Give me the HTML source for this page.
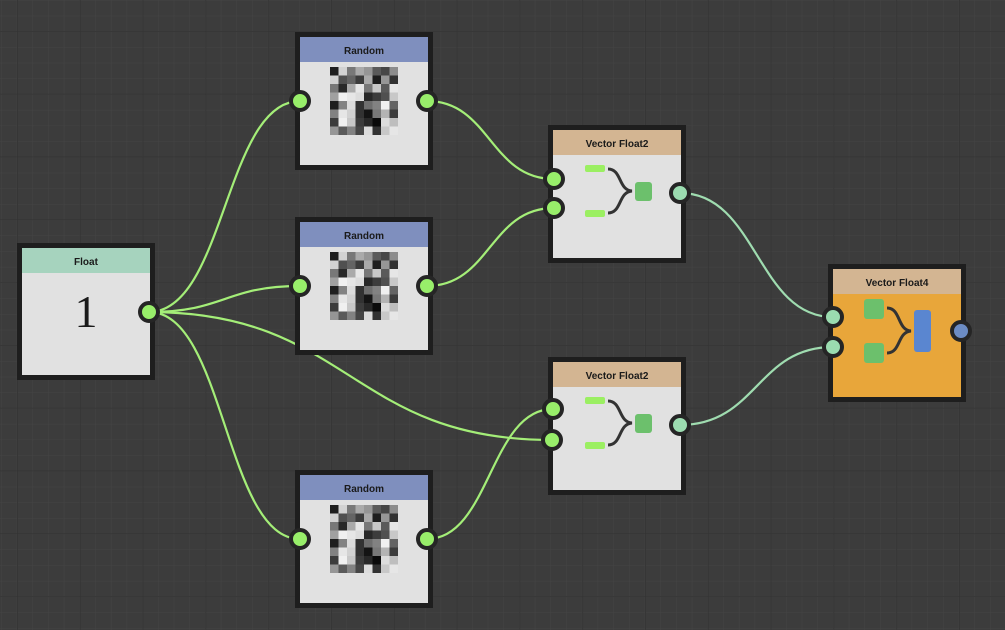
<!DOCTYPE html>
<html><head><meta charset="utf-8"><style>
html,body{margin:0;padding:0;background:#3b3b3b;overflow:hidden}
svg{display:block}
text{font-family:"Liberation Sans",sans-serif;font-weight:bold;font-size:10px;fill:#1a1a1a}
</style></head><body>
<svg width="1005" height="630" xmlns="http://www.w3.org/2000/svg">
<defs>
<pattern id="minor" width="15.7" height="15.7" patternUnits="userSpaceOnUse" x="1" y="0">
<path d="M0 0H15.7M0 0V15.7" stroke="#444" stroke-width="1" fill="none"/>
</pattern>
<pattern id="major" width="62.8" height="62.8" patternUnits="userSpaceOnUse" x="17" y="31">
<path d="M0 0H62.8M0 0V62.8" stroke="#333" stroke-width="1.5" fill="none"/>
</pattern>
</defs>
<rect width="1005" height="630" fill="#3c3c3c"/>
<rect width="1005" height="630" fill="url(#minor)"/>
<rect width="1005" height="630" fill="url(#major)"/>

<!-- wires -->
<g fill="none" stroke="#a4ee78" stroke-width="2.2">
<path d="M149 312 C225 312 225 101 300 101"/>
<path d="M149 312 C225 312 225 286 300 286"/>
<path d="M149 312 C225 312 225 539 300 539"/>
<path d="M149 312 C350 312 350 440 552 440"/>
<path d="M427 101 C490 101 490 179 554 179"/>
<path d="M427 286 C490 286 490 208 554 208"/>
<path d="M427 539 C490 539 490 409 553 409"/>
</g>
<g fill="none" stroke="#9fdcb0" stroke-width="2.2">
<path d="M680 193 C757 193 757 317 833 317"/>
<path d="M680 425 C757 425 757 347 833 347"/>
</g>

<!-- Float node -->
<rect x="19.5" y="245.5" width="133" height="132" fill="#e1e1e1" stroke="#1e1e1e" stroke-width="5"/>
<rect x="22" y="248" width="128" height="25" fill="#a6d3be"/>
<text x="86" y="265" text-anchor="middle">Float</text>
<text x="86" y="327" text-anchor="middle" style="font-family:'Liberation Serif',serif;font-weight:normal;font-size:46px">1</text>

<!-- Random nodes -->
<g>
<rect x="297.5" y="34.5" width="133" height="133" fill="#e1e1e1" stroke="#1e1e1e" stroke-width="5"/>
<rect x="300" y="37" width="128" height="25" fill="#7f8fbe"/>
<text x="364" y="54" text-anchor="middle">Random</text>
</g>
<g transform="translate(0,185)">
<rect x="297.5" y="34.5" width="133" height="133" fill="#e1e1e1" stroke="#1e1e1e" stroke-width="5"/>
<rect x="300" y="37" width="128" height="25" fill="#7f8fbe"/>
<text x="364" y="54" text-anchor="middle">Random</text>
</g>
<g transform="translate(0,438)">
<rect x="297.5" y="34.5" width="133" height="133" fill="#e1e1e1" stroke="#1e1e1e" stroke-width="5"/>
<rect x="300" y="37" width="128" height="25" fill="#7f8fbe"/>
<text x="364" y="54" text-anchor="middle">Random</text>
</g>

<!-- noise grids -->
<g id="ng" transform="translate(330,67)">
<rect x="0" y="0" width="8.5" height="8.5" fill="#1e1e1e"/><rect x="8.5" y="0" width="8.5" height="8.5" fill="#d2d2d2"/><rect x="17" y="0" width="8.5" height="8.5" fill="#787878"/><rect x="25.5" y="0" width="8.5" height="8.5" fill="#aaa"/><rect x="34" y="0" width="8.5" height="8.5" fill="#969696"/><rect x="42.5" y="0" width="8.5" height="8.5" fill="#5a5a5a"/><rect x="51" y="0" width="8.5" height="8.5" fill="#464646"/><rect x="59.5" y="0" width="8.5" height="8.5" fill="#8c8c8c"/>
<rect x="0" y="8.5" width="8.5" height="8.5" fill="#d2d2d2"/><rect x="8.5" y="8.5" width="8.5" height="8.5" fill="#505050"/><rect x="17" y="8.5" width="8.5" height="8.5" fill="#646464"/><rect x="25.5" y="8.5" width="8.5" height="8.5" fill="#3c3c3c"/><rect x="34" y="8.5" width="8.5" height="8.5" fill="#aaa"/><rect x="42.5" y="8.5" width="8.5" height="8.5" fill="#1e1e1e"/><rect x="51" y="8.5" width="8.5" height="8.5" fill="#969696"/><rect x="59.5" y="8.5" width="8.5" height="8.5" fill="#323232"/>
<rect x="0" y="17" width="8.5" height="8.5" fill="#787878"/><rect x="8.5" y="17" width="8.5" height="8.5" fill="#282828"/><rect x="17" y="17" width="8.5" height="8.5" fill="#aaa"/><rect x="25.5" y="17" width="8.5" height="8.5" fill="#e6e6e6"/><rect x="34" y="17" width="8.5" height="8.5" fill="#787878"/><rect x="42.5" y="17" width="8.5" height="8.5" fill="#c8c8c8"/><rect x="51" y="17" width="8.5" height="8.5" fill="#5a5a5a"/><rect x="59.5" y="17" width="8.5" height="8.5" fill="#e6e6e6"/>
<rect x="0" y="25.5" width="8.5" height="8.5" fill="#a0a0a0"/><rect x="8.5" y="25.5" width="8.5" height="8.5" fill="#f0f0f0"/><rect x="17" y="25.5" width="8.5" height="8.5" fill="#e6e6e6"/><rect x="25.5" y="25.5" width="8.5" height="8.5" fill="#dcdcdc"/><rect x="34" y="25.5" width="8.5" height="8.5" fill="#282828"/><rect x="42.5" y="25.5" width="8.5" height="8.5" fill="#3c3c3c"/><rect x="51" y="25.5" width="8.5" height="8.5" fill="#505050"/><rect x="59.5" y="25.5" width="8.5" height="8.5" fill="#c8c8c8"/>
<rect x="0" y="34" width="8.5" height="8.5" fill="#1e1e1e"/><rect x="8.5" y="34" width="8.5" height="8.5" fill="#828282"/><rect x="17" y="34" width="8.5" height="8.5" fill="#dcdcdc"/><rect x="25.5" y="34" width="8.5" height="8.5" fill="#323232"/><rect x="34" y="34" width="8.5" height="8.5" fill="#6e6e6e"/><rect x="42.5" y="34" width="8.5" height="8.5" fill="#828282"/><rect x="51" y="34" width="8.5" height="8.5" fill="#f0f0f0"/><rect x="59.5" y="34" width="8.5" height="8.5" fill="#646464"/>
<rect x="0" y="42.5" width="8.5" height="8.5" fill="#828282"/><rect x="8.5" y="42.5" width="8.5" height="8.5" fill="#e6e6e6"/><rect x="17" y="42.5" width="8.5" height="8.5" fill="#d2d2d2"/><rect x="25.5" y="42.5" width="8.5" height="8.5" fill="#323232"/><rect x="34" y="42.5" width="8.5" height="8.5" fill="#141414"/><rect x="42.5" y="42.5" width="8.5" height="8.5" fill="#787878"/><rect x="51" y="42.5" width="8.5" height="8.5" fill="#b4b4b4"/><rect x="59.5" y="42.5" width="8.5" height="8.5" fill="#3c3c3c"/>
<rect x="0" y="51" width="8.5" height="8.5" fill="#3c3c3c"/><rect x="8.5" y="51" width="8.5" height="8.5" fill="#f0f0f0"/><rect x="17" y="51" width="8.5" height="8.5" fill="#c8c8c8"/><rect x="25.5" y="51" width="8.5" height="8.5" fill="#3c3c3c"/><rect x="34" y="51" width="8.5" height="8.5" fill="#282828"/><rect x="42.5" y="51" width="8.5" height="8.5" fill="#0a0a0a"/><rect x="51" y="51" width="8.5" height="8.5" fill="#dcdcdc"/><rect x="59.5" y="51" width="8.5" height="8.5" fill="#bebebe"/>
<rect x="0" y="59.5" width="8.5" height="8.5" fill="#969696"/><rect x="8.5" y="59.5" width="8.5" height="8.5" fill="#5a5a5a"/><rect x="17" y="59.5" width="8.5" height="8.5" fill="#828282"/><rect x="25.5" y="59.5" width="8.5" height="8.5" fill="#464646"/><rect x="34" y="59.5" width="8.5" height="8.5" fill="#dcdcdc"/><rect x="42.5" y="59.5" width="8.5" height="8.5" fill="#323232"/><rect x="51" y="59.5" width="8.5" height="8.5" fill="#c8c8c8"/><rect x="59.5" y="59.5" width="8.5" height="8.5" fill="#e6e6e6"/>
</g>
<use href="#ng" transform="translate(0,185)"/>
<use href="#ng" transform="translate(0,438)"/>

<!-- Vector Float2 top -->
<g id="vf2">
<rect x="550.5" y="127.5" width="133" height="133" fill="#e1e1e1" stroke="#1e1e1e" stroke-width="5"/>
<rect x="553" y="130" width="128" height="25" fill="#d3b592"/>
<text x="617" y="147" text-anchor="middle">Vector Float2</text>
<rect x="585" y="165" width="20" height="7" rx="2" fill="#9bef62"/>
<rect x="585" y="210" width="20" height="7" rx="2" fill="#9bef62"/>
<path d="M608 169 C622 169 618 190 632 191 C618 192 622 213 608 213" fill="none" stroke="#333" stroke-width="3"/>
<rect x="635" y="182" width="17" height="19" rx="3" fill="#6cc06c"/>
</g>
<use href="#vf2" transform="translate(0,232)"/>

<!-- Vector Float4 -->
<rect x="830.5" y="266.5" width="133" height="133" fill="#e8a63a" stroke="#1e1e1e" stroke-width="5"/>
<rect x="833" y="269" width="128" height="25" fill="#d3b592"/>
<text x="897" y="286" text-anchor="middle">Vector Float4</text>
<rect x="864" y="299" width="20" height="20" rx="3" fill="#6cc06c"/>
<rect x="864" y="343" width="20" height="20" rx="3" fill="#6cc06c"/>
<path d="M887 308 C901 308 897 330 911 331 C897 332 901 353 887 353" fill="none" stroke="#333" stroke-width="3"/>
<rect x="914" y="310" width="17" height="42" rx="3" fill="#5a86d0"/>

<!-- ports -->
<g stroke="#252525" stroke-width="4">
<circle cx="149" cy="312" r="9" fill="#98ee6a"/>
<circle cx="300" cy="101" r="9" fill="#98ee6a"/>
<circle cx="427" cy="101" r="9" fill="#98ee6a"/>
<circle cx="300" cy="286" r="9" fill="#98ee6a"/>
<circle cx="427" cy="286" r="9" fill="#98ee6a"/>
<circle cx="300" cy="539" r="9" fill="#98ee6a"/>
<circle cx="427" cy="539" r="9" fill="#98ee6a"/>
<circle cx="554" cy="179" r="9" fill="#98ee6a"/>
<circle cx="554" cy="208" r="9" fill="#98ee6a"/>
<circle cx="680" cy="193" r="9" fill="#9bdcb0"/>
<circle cx="553" cy="409" r="9" fill="#98ee6a"/>
<circle cx="552" cy="440" r="9" fill="#98ee6a"/>
<circle cx="680" cy="425" r="9" fill="#9bdcb0"/>
<circle cx="833" cy="317" r="9" fill="#9bdcb0"/>
<circle cx="833" cy="347" r="9" fill="#9bdcb0"/>
<circle cx="961" cy="331" r="9" fill="#6c8cc4"/>
</g>
</svg>
</body></html>
